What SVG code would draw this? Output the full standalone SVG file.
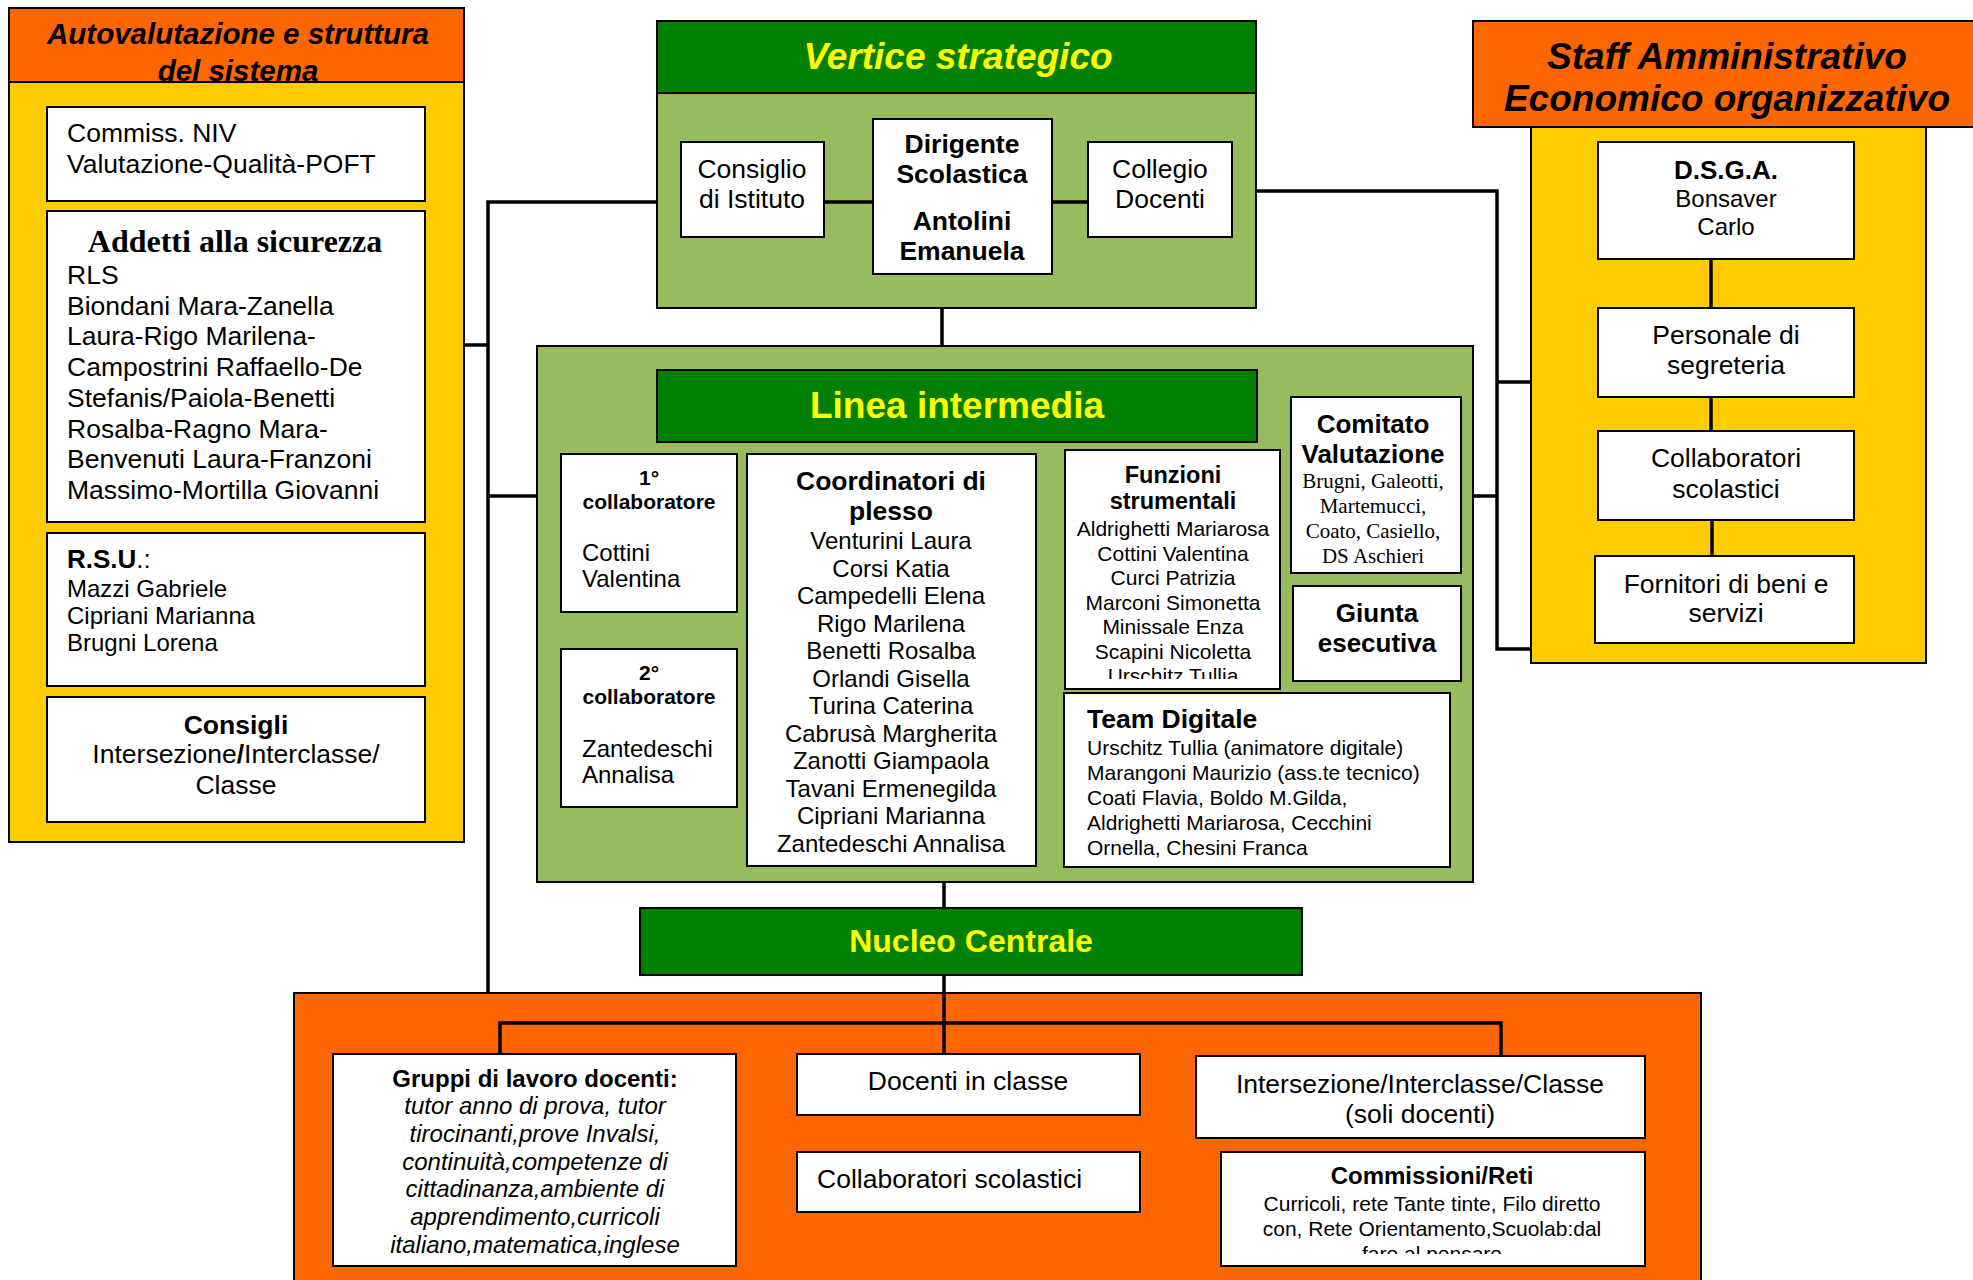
<svg xmlns="http://www.w3.org/2000/svg" width="1973" height="1280" viewBox="0 0 1973 1280">
<defs>
<style>
text{font-family:"Liberation Sans",Arial,sans-serif;fill:#000;}
.c{text-anchor:middle;}
.b{font-weight:bold;}
.i{font-style:italic;}
.serif{font-family:"Liberation Serif","Times New Roman",serif;}
.box{fill:#fff;stroke:#000;stroke-width:2;}
.org{fill:#FF6600;stroke:#000;stroke-width:2;}
.yel{fill:#FFCC00;stroke:#000;stroke-width:2;}
.grn{fill:#008000;stroke:#000;stroke-width:2;}
.lgr{fill:#97BC5E;stroke:#000;stroke-width:2;}
.ytx{fill:#FFFF00;}
.t265{font-size:26.5px;}
.t24{font-size:24px;}
.t21{font-size:21px;}
.con{fill:none;stroke:#000;stroke-width:3.5;}
</style>
<clipPath id="clipFun"><rect x="1065" y="450" width="215" height="229"/></clipPath>
<clipPath id="clipCom"><rect x="1221" y="1152" width="424" height="102"/></clipPath>
</defs>
<rect x="0" y="0" width="1973" height="1280" fill="#fff"/>

<g id="autovalutazione">
<rect class="yel" x="9" y="82" width="455" height="760"/>
<rect class="org" x="9" y="8" width="455" height="74"/>
<text class="c b i" x="238" y="44" font-size="29.5">Autovalutazione e struttura</text>
<text class="c b i" x="238" y="81" font-size="29.5">del sistema</text>
</g>
<g id="commiss-niv">
<rect class="box" x="47" y="107" width="378" height="94"/>
<text class="t265" x="67" y="142">Commiss. NIV</text>
<text class="t265" x="67" y="173">Valutazione-Qualità-POFT</text>
</g>
<g id="addetti-sicurezza">
<rect class="box" x="47" y="211" width="378" height="311"/>
<text class="c b serif" x="235" y="252" font-size="32">Addetti alla sicurezza</text>
<text class="t265" x="67" y="284">RLS</text>
<text class="t265" x="67" y="314.7">Biondani Mara-Zanella</text>
<text class="t265" x="67" y="345.4">Laura-Rigo Marilena-</text>
<text class="t265" x="67" y="376.1">Campostrini Raffaello-De</text>
<text class="t265" x="67" y="406.8">Stefanis/Paiola-Benetti</text>
<text class="t265" x="67" y="437.5">Rosalba-Ragno Mara-</text>
<text class="t265" x="67" y="468.2">Benvenuti Laura-Franzoni</text>
<text class="t265" x="67" y="499">Massimo-Mortilla Giovanni</text>
</g>
<g id="rsu">
<rect class="box" x="47" y="533" width="378" height="153"/>
<text x="67" y="568" font-size="26"><tspan class="b">R.S.U</tspan>.:</text>
<text class="t24" x="67" y="597">Mazzi Gabriele</text>
<text class="t24" x="67" y="624">Cipriani Marianna</text>
<text class="t24" x="67" y="651">Brugni Lorena</text>
</g>
<g id="consigli">
<rect class="box" x="47" y="697" width="378" height="125"/>
<text class="c b t265" x="236" y="734">Consigli</text>
<text class="c t265" x="236" y="763">Intersezione<tspan class="b">/</tspan>Interclasse/</text>
<text class="c t265" x="236" y="794">Classe</text>
</g>

<g id="vertice-strategico">
<rect class="lgr" x="657" y="93" width="599" height="215"/>
<rect class="grn" x="657" y="21" width="599" height="72"/>
<text class="c b i ytx" x="958" y="68.5" font-size="37">Vertice strategico</text>
</g>
<g id="consiglio-istituto">
<rect class="box" x="681" y="142" width="143" height="95"/>
<text class="c t265" x="752" y="178">Consiglio</text>
<text class="c t265" x="752" y="208">di Istituto</text>
</g>
<g id="dirigente">
<rect class="box" x="873" y="119" width="179" height="155"/>
<text class="c b t265" x="962" y="153">Dirigente</text>
<text class="c b t265" x="962" y="183">Scolastica</text>
<text class="c b t265" x="962" y="230">Antolini</text>
<text class="c b t265" x="962" y="260">Emanuela</text>
</g>
<g id="collegio-docenti">
<rect class="box" x="1088" y="142" width="144" height="95"/>
<text class="c t265" x="1160" y="178">Collegio</text>
<text class="c t265" x="1160" y="208">Docenti</text>
</g>

<g id="staff">
<rect class="yel" x="1531" y="127" width="395" height="536"/>
<rect class="org" x="1473" y="21" width="502" height="106"/>
<text class="c b i" x="1727" y="68.5" font-size="37">Staff Amministrativo</text>
<text class="c b i" x="1727" y="110.5" font-size="37">Economico organizzativo</text>
</g>
<g id="dsga">
<rect class="box" x="1598" y="142" width="256" height="117"/>
<text class="c b" x="1726" y="179" font-size="26">D.S.G.A.</text>
<text class="c t24" x="1726" y="207">Bonsaver</text>
<text class="c t24" x="1726" y="235">Carlo</text>
</g>
<g id="personale-segreteria">
<rect class="box" x="1598" y="308" width="256" height="89"/>
<text class="c t265" x="1726" y="344">Personale di</text>
<text class="c t265" x="1726" y="374">segreteria</text>
</g>
<g id="collaboratori-staff">
<rect class="box" x="1598" y="431" width="256" height="89"/>
<text class="c t265" x="1726" y="467">Collaboratori</text>
<text class="c t265" x="1726" y="498">scolastici</text>
</g>
<g id="fornitori">
<rect class="box" x="1595" y="556" width="259" height="87"/>
<text class="c t265" x="1726" y="593">Fornitori di beni e</text>
<text class="c t265" x="1726" y="622">servizi</text>
</g>

<g id="linea-intermedia">
<rect class="lgr" x="537" y="346" width="936" height="536"/>
<rect class="grn" x="657" y="370" width="600" height="72"/>
<text class="c b ytx" x="957" y="417.5" font-size="37">Linea intermedia</text>
</g>
<g id="collaboratore-1">
<rect class="box" x="561" y="454" width="176" height="158"/>
<text class="c b" x="649" y="485" font-size="21">1°</text>
<text class="c b" x="649" y="509" font-size="21">collaboratore</text>
<text class="t24" x="582" y="561">Cottini</text>
<text class="t24" x="582" y="587">Valentina</text>
</g>
<g id="collaboratore-2">
<rect class="box" x="561" y="649" width="176" height="158"/>
<text class="c b" x="649" y="680" font-size="21">2°</text>
<text class="c b" x="649" y="704" font-size="21">collaboratore</text>
<text class="t24" x="582" y="757">Zantedeschi</text>
<text class="t24" x="582" y="783">Annalisa</text>
</g>
<g id="coordinatori-plesso">
<rect class="box" x="747" y="454" width="289" height="412"/>
<text class="c b t265" x="891" y="490">Coordinatori di</text>
<text class="c b t265" x="891" y="520">plesso</text>
<text class="c t24" x="891" y="549">Venturini Laura</text>
<text class="c t24" x="891" y="576.5">Corsi Katia</text>
<text class="c t24" x="891" y="604">Campedelli Elena</text>
<text class="c t24" x="891" y="631.5">Rigo Marilena</text>
<text class="c t24" x="891" y="659">Benetti Rosalba</text>
<text class="c t24" x="891" y="686.5">Orlandi Gisella</text>
<text class="c t24" x="891" y="714">Turina Caterina</text>
<text class="c t24" x="891" y="741.5">Cabrusà Margherita</text>
<text class="c t24" x="891" y="769">Zanotti Giampaola</text>
<text class="c t24" x="891" y="796.5">Tavani Ermenegilda</text>
<text class="c t24" x="891" y="824">Cipriani Marianna</text>
<text class="c t24" x="891" y="851.5">Zantedeschi Annalisa</text>
</g>
<g id="funzioni-strumentali">
<rect class="box" x="1065" y="450" width="215" height="239"/>
<text class="c b" x="1173" y="483" font-size="23.5">Funzioni</text>
<text class="c b" x="1173" y="509" font-size="23.5">strumentali</text>
<g clip-path="url(#clipFun)">
<text class="c t21" x="1173" y="536">Aldrighetti Mariarosa</text>
<text class="c t21" x="1173" y="560.5">Cottini Valentina</text>
<text class="c t21" x="1173" y="585">Curci Patrizia</text>
<text class="c t21" x="1173" y="609.5">Marconi Simonetta</text>
<text class="c t21" x="1173" y="634">Minissale Enza</text>
<text class="c t21" x="1173" y="658.5">Scapini Nicoletta</text>
<text class="c t21" x="1173" y="683">Urschitz Tullia</text>
</g>
</g>
<g id="comitato-valutazione">
<rect class="box" x="1291" y="397" width="170" height="176"/>
<text class="c b" x="1373" y="433" font-size="26">Comitato</text>
<text class="c b" x="1373" y="463" font-size="26">Valutazione</text>
<text class="c serif t21" x="1373" y="488">Brugni, Galeotti,</text>
<text class="c serif t21" x="1373" y="513">Martemucci,</text>
<text class="c serif t21" x="1373" y="538">Coato, Casiello,</text>
<text class="c serif t21" x="1373" y="563">DS Aschieri</text>
</g>
<g id="giunta-esecutiva">
<rect class="box" x="1293" y="586" width="168" height="95"/>
<text class="c b" x="1377" y="622" font-size="26">Giunta</text>
<text class="c b" x="1377" y="652" font-size="26">esecutiva</text>
</g>
<g id="team-digitale">
<rect class="box" x="1064" y="693" width="386" height="174"/>
<text class="b t265" x="1087" y="728">Team Digitale</text>
<text class="t21" x="1087" y="755">Urschitz Tullia (animatore digitale)</text>
<text class="t21" x="1087" y="780">Marangoni Maurizio (ass.te tecnico)</text>
<text class="t21" x="1087" y="805">Coati Flavia, Boldo M.Gilda,</text>
<text class="t21" x="1087" y="830">Aldrighetti Mariarosa, Cecchini</text>
<text class="t21" x="1087" y="855">Ornella, Chesini Franca</text>
</g>

<g id="nucleo-centrale">
<rect class="grn" x="640" y="908" width="662" height="67"/>
<text class="c b ytx" x="971" y="951.5" font-size="32">Nucleo Centrale</text>
</g>

<g id="base-operativa">
<rect class="org" x="294" y="993" width="1407" height="300"/>
</g>
<g id="gruppi-lavoro">
<rect class="box" x="333" y="1054" width="403" height="212"/>
<text class="c b t24" x="535" y="1087">Gruppi di lavoro docenti:</text>
<text class="c i t24" x="535" y="1114">tutor anno di prova, tutor</text>
<text class="c i t24" x="535" y="1142">tirocinanti,prove Invalsi,</text>
<text class="c i t24" x="535" y="1169.5">continuità,competenze di</text>
<text class="c i t24" x="535" y="1197">cittadinanza,ambiente di</text>
<text class="c i t24" x="535" y="1225">apprendimento,curricoli</text>
<text class="c i t24" x="535" y="1253">italiano,matematica,inglese</text>
</g>
<g id="docenti-classe">
<rect class="box" x="797" y="1054" width="343" height="61"/>
<text class="c t265" x="968" y="1090">Docenti in classe</text>
</g>
<g id="collaboratori-scolastici">
<rect class="box" x="797" y="1152" width="343" height="60"/>
<text class="t265" x="817" y="1188">Collaboratori scolastici</text>
</g>
<g id="intersezione-soli-docenti">
<rect class="box" x="1196" y="1056" width="449" height="82"/>
<text class="c t265" x="1420" y="1092.5">Intersezione/Interclasse/Classe</text>
<text class="c t265" x="1420" y="1122.5">(soli docenti)</text>
</g>
<g id="commissioni-reti">
<rect class="box" x="1221" y="1152" width="424" height="114"/>
<text class="c b t24" x="1432" y="1184">Commissioni/Reti</text>
<g clip-path="url(#clipCom)">
<text class="c t21" x="1432" y="1211">Curricoli, rete Tante tinte, Filo diretto</text>
<text class="c t21" x="1432" y="1236">con, Rete Orientamento,Scuolab:dal</text>
<text class="c t21" x="1432" y="1261">fare al pensare</text>
</g>
</g>

<g id="connectors">
<path class="con" d="M657,202 H488 V993"/>
<path class="con" d="M464,345 H488"/>
<path class="con" d="M488,496 H537"/>
<path class="con" d="M824,202 H873"/>
<path class="con" d="M1052,202 H1088"/>
<path class="con" d="M942,308 V346"/>
<path class="con" d="M1256,191 H1497 V649 H1531"/>
<path class="con" d="M1497,382 H1531"/>
<path class="con" d="M1473,496 H1497"/>
<path class="con" d="M1711,259 V308"/>
<path class="con" d="M1711,397 V431"/>
<path class="con" d="M1712,520 V556"/>
<path class="con" d="M944,882 V908"/>
<path class="con" d="M944,975 V1055"/>
<path class="con" d="M500,1054 V1023 H1501 V1056"/>
</g>
</svg>
